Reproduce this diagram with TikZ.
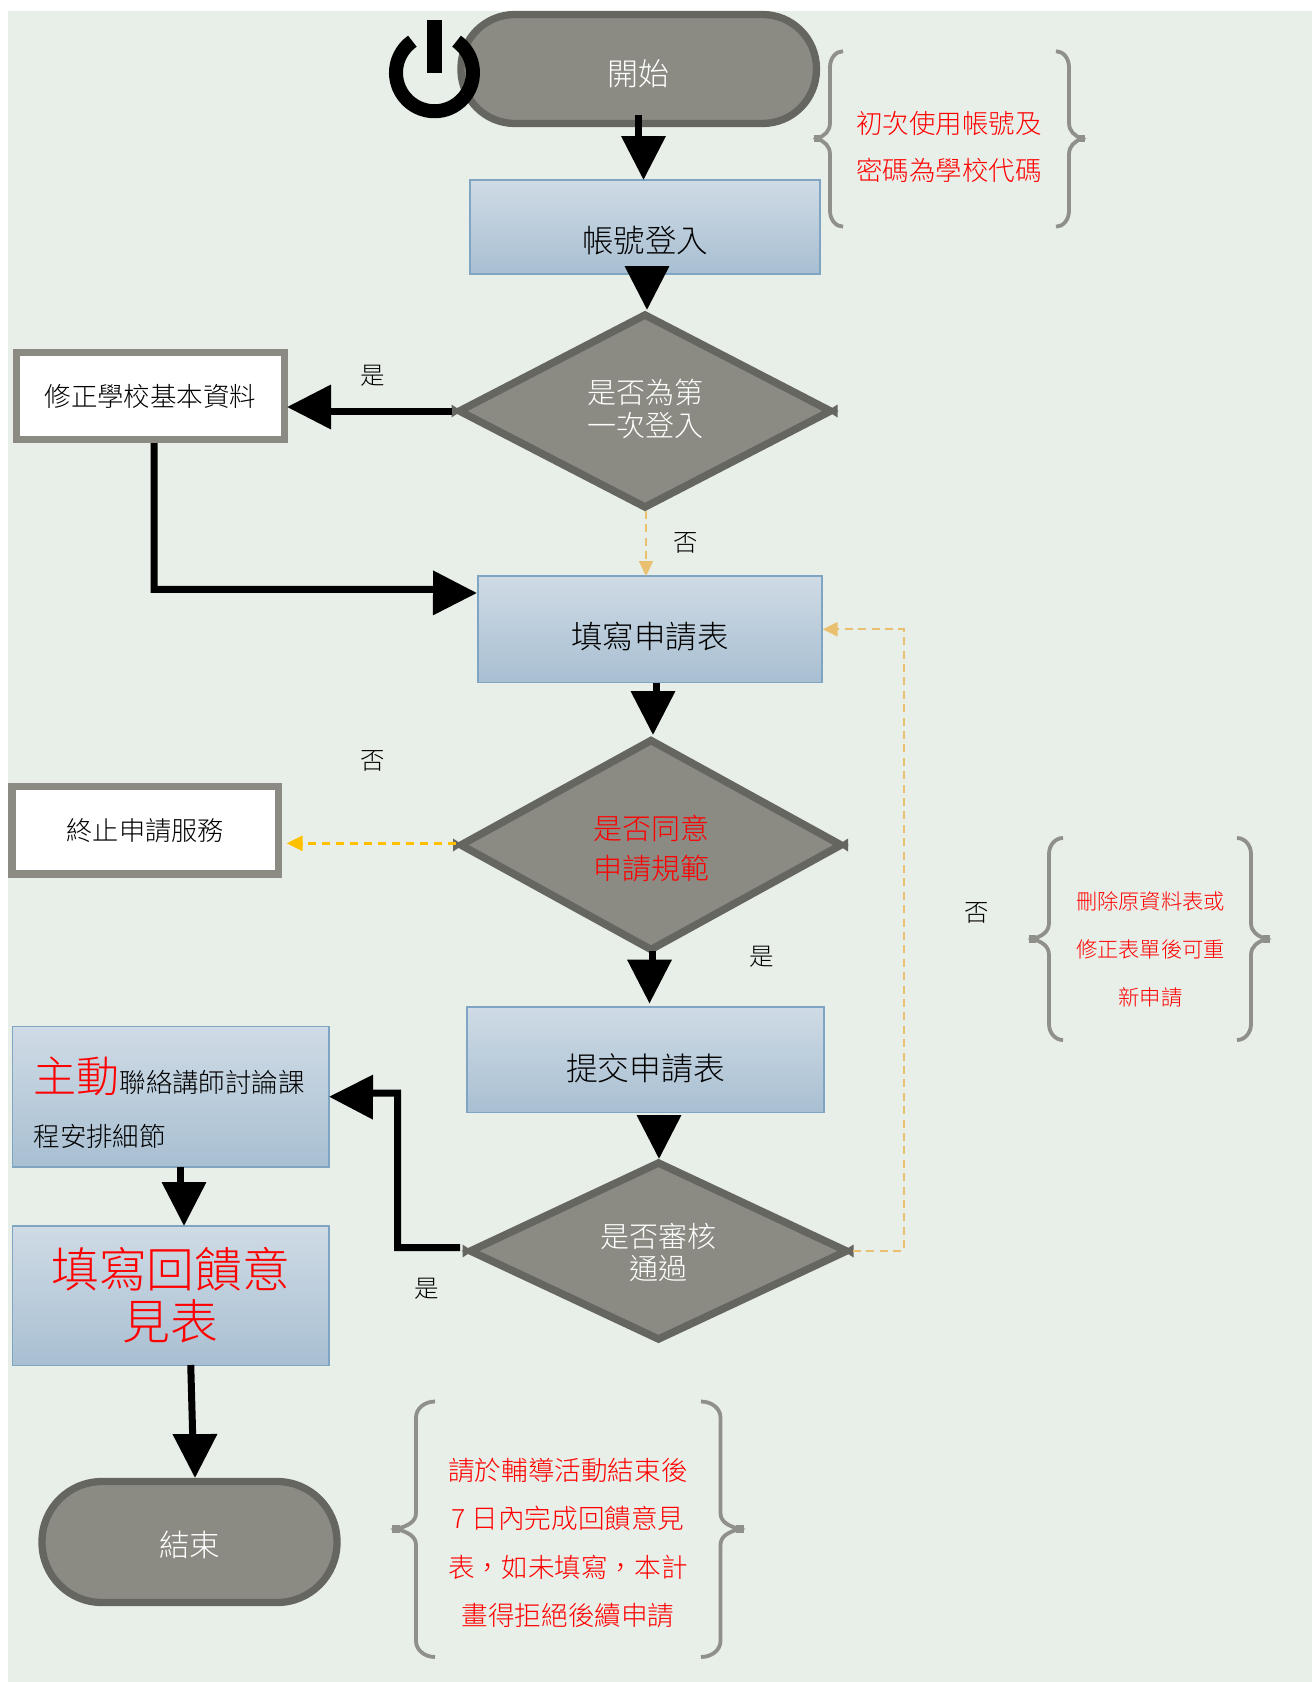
\documentclass[tikz,border=0pt]{standalone}
\usepackage{fontspec}
\setmainfont{Noto Sans CJK TC}[UprightFont=* Light]
\usetikzlibrary{arrows.meta,shapes.geometric}
\definecolor{bgc}{HTML}{E8EFE8}
\definecolor{brd}{HTML}{666660}
\definecolor{pillc}{HTML}{8B8B83}
\definecolor{boxtop}{HTML}{CFDBE5}
\definecolor{boxbot}{HTML}{A8BFD2}
\definecolor{boxedge}{HTML}{7FA5C3}
\definecolor{brace}{HTML}{8F908A}
\definecolor{dashY}{HTML}{E8C070}
\definecolor{dashO}{HTML}{FFC000}
\newcommand{\boxtext}[4]{% offset of first line centre below node centre, font size, line pitch, lines
 \pgfmathsetmacro\myraise{-(#1)-0.38*(#2)}%
 \fontsize{#2pt}{#3pt}\selectfont\smash{\raisebox{\myraise pt}{\begin{tabular}[t]{@{}c@{}}#4\end{tabular}}}}
\newcommand{\tipmarks}[1]{%
 \fill[brd] ([xshift=-8pt,yshift=6.5pt]#1.west) -- ++(0,13) -- ++(10,-6.5) -- cycle;
 \fill[brd] ([xshift=7pt,yshift=6.5pt]#1.east) -- ++(0,13) -- ++(-10,-6.5) -- cycle;}
\newcommand{\bracepic}[6]{% tip, spine, end, top, mid, bottom
 \pgfmathsetmacro\dxe{#3-(#2)}\pgfmathsetmacro\dxt{#1-(#2)}%
 \draw[bracestyle] (#3,#4) .. controls ({#2+0.45*\dxe},#4) and (#2,{#4+7}) .. (#2,{#4+16})
   -- (#2,{#5-16}) .. controls (#2,{#5-7}) and ({#2+0.35*\dxt},{#5-3}) .. ({#2+0.8*\dxt},#5)
   .. controls ({#2+0.35*\dxt},{#5+3}) and (#2,{#5+7}) .. (#2,{#5+16})
   -- (#2,{#6-16}) .. controls (#2,{#6-7}) and ({#2+0.45*\dxe},#6) .. (#3,#6);
 \fill[brace] (#1,{#5-3.8}) rectangle ({#2+0.65*\dxt},{#5+3.8});}
\tikzset{
 pill/.style={rectangle,draw=brd,fill=pillc,line width=7.3pt,outer sep=0pt,inner sep=0pt,text=white},
 flowbox/.style={rectangle,draw=boxedge,line width=1.5pt,top color=boxtop,bottom color=boxbot,outer sep=0pt,inner sep=0pt,text=black},
 framebox/.style={rectangle,draw=pillc,fill=white,line width=7.3pt,outer sep=0pt,inner sep=0pt,text=black},
 choice/.style={diamond,draw=brd,fill=pillc,line width=7.5pt,outer sep=0pt,inner sep=0pt,text=white},
 plain/.style={inner sep=0pt,outer sep=0pt,text=black},
 note/.style={inner sep=0pt,outer sep=0pt,text=red},
 fat/.style={draw=black,line width=7pt,line join=miter,-{Triangle[length=44pt,width=43pt]}},
 dashY/.style={draw=dashY,line width=2.2pt,dash pattern=on 8pt off 5.4pt,-{Triangle[length=15pt,width=14pt]}},
 dashO/.style={draw=dashO,line width=2.8pt,dash pattern=on 8.5pt off 5.5pt,-{Triangle[length=16pt,width=15pt]}},
 bracestyle/.style={draw=brace,line width=3.8pt,line cap=butt},
}
\begin{document}
\begin{tikzpicture}[x=1pt,y=-1pt]
\useasboundingbox (0,0) rectangle (1312,1682);
\fill[bgc] (8,11) rectangle (1312,1682);
% nodes
\node[pill,rounded corners=54pt,minimum width=355.5pt,minimum height=109pt] (start) at (638.7,69) {\boxtext{4.5}{31}{31}{開始}};
\node[flowbox,minimum width=350pt,minimum height=94pt] (login) at (645,227) {\boxtext{14}{31.5}{32}{帳號登入}};
\node[choice,minimum width=371pt,minimum height=192pt,aspect=1.93] (d1) at (645,411) {\boxtext{-18.5}{29}{31.5}{是否為第\\[-1pt]一次登入}};
\node[framebox,minimum width=268pt,minimum height=87pt] (fix) at (150.5,396) {\boxtext{0.6}{26.5}{27}{修正學校基本資料}};
\node[flowbox,minimum width=344pt,minimum height=106.5pt] (form) at (650,629.25) {\boxtext{7.75}{31.5}{32}{填寫申請表}};
\node[choice,minimum width=380pt,minimum height=209pt,aspect=1.82,text=red] (d2) at (651,845) {\boxtext{-16.4}{29}{40}{是否同意\\申請規範}};
\node[framebox,minimum width=266.5pt,minimum height=87.5pt] (stop) at (145.2,830.2) {\boxtext{0}{26.2}{27}{終止申請服務}};
\node[flowbox,minimum width=357pt,minimum height=105.5pt] (submit) at (645.5,1059.75) {\boxtext{8.5}{31.8}{32}{提交申請表}};
\node[choice,minimum width=376pt,minimum height=176pt,aspect=2.14] (d3) at (658.5,1251) {\boxtext{-15}{29}{32}{是否審核\\[-1pt]通過}};
\node[flowbox,minimum width=316.5pt,minimum height=140.6pt] (contact) at (170.75,1096.7) {\fontsize{26.5pt}{54pt}\selectfont\kern-3pt\smash{\raisebox{4.7pt}{\begin{tabular}[t]{@{}l@{}}{\fontsize{43pt}{43pt}\selectfont\color{red}主動}聯絡講師討論課\\程安排細節\end{tabular}}}};
\node[flowbox,minimum width=316.5pt,minimum height=139.7pt,text=red] (feedback) at (170.75,1295.85) {\boxtext{-26.5}{47.8}{54}{填寫回饋意\\[-4pt]見表}};
\node[pill,rounded corners=60pt,minimum width=295pt,minimum height=121pt] (finish) at (189.5,1542) {\boxtext{2.5}{30.5}{31}{結束}};
% labels
\node[plain] (yes1) at (373,375) {\boxtext{0}{24.5}{25}{是}};
\node[plain] (no1) at (686,542) {\boxtext{0}{24.5}{25}{否}};
\node[plain] (no2) at (373,760) {\boxtext{0}{24.5}{25}{否}};
\node[plain] (yes2) at (761.5,956) {\boxtext{0}{24.5}{25}{是}};
\node[plain] (no3) at (976.6,912) {\boxtext{0}{24.5}{25}{否}};
\node[plain] (yes3) at (427,1288) {\boxtext{0}{24.5}{25}{是}};
% notes
\node[note] (note1) at (949,147) {\boxtext{-24}{26.5}{47.7}{初次使用帳號及\\密碼為學校代碼}};
\node[note] (note2) at (1150.6,949) {\boxtext{-48}{21.3}{48}{刪除原資料表或\\修正表單後可重\\新申請}};
\node[note] (note3) at (568,1541) {\boxtext{-70.5}{26.6}{48.2}{請於輔導活動結束後\\7 日內完成回饋意見\\表，如未填寫，本計\\畫得拒絕後續申請}};
% braces
\bracepic{814}{830}{843}{51.2}{138.6}{226.7}
\bracepic{1085}{1069}{1056}{51.2}{138.6}{226.7}
\bracepic{1029}{1049}{1063}{838}{939}{1040}
\bracepic{1270}{1251}{1237}{838}{939}{1040}
\bracepic{391.6}{416}{435}{1401.5}{1529}{1657}
\bracepic{744}{720.5}{701}{1401.5}{1529}{1657}
% power icon
\draw[black,line width=14pt,line cap=butt] (412.4,41.2) arc[start angle=125,end angle=415,radius=38.5pt];
\fill[black] (427.3,20) rectangle (442,72.7);
% diamond tip marks
\tipmarks{d1}\tipmarks{d2}\tipmarks{d3}
% connectors
\draw[fat] ([yshift=8.5pt]start.south) -- ++(0,25) -- ++(4.8,0) -- ([xshift=-1.5pt]login.north);
\draw[fat] ([xshift=2pt,yshift=8.5pt]login.south) -- ([xshift=2pt,yshift=5pt]d1.north);
\draw[fat] ([xshift=-7.6pt]d1.west) -- ++(-126,0) -- ++(0,-4) -- ([xshift=2.5pt,yshift=-11pt]fix.east);
\draw[fat] ([xshift=3.5pt,yshift=-3.5pt]fix.south) -- ++(0,146.3) -- ++(288,0) -- ++(0,3.6) -- ([xshift=-1pt,yshift=36.25pt]form.west);
\draw[dashY] ([xshift=1pt,yshift=-4pt]d1.south) -- ([xshift=-4pt]form.north);
\draw[fat] ([xshift=6pt]form.south) -- ++(0,12.5) -- ++(-3,0) -- ([xshift=2pt,yshift=5.5pt]d2.north);
\draw[dashO] ([xshift=-5pt,yshift=1.7pt]d2.west) -- ([xshift=8.2pt,yshift=-13.1pt]stop.east);
\draw[fat] ([xshift=1.7pt,yshift=-1.5pt]d2.south) -- ++(0,13) -- ++(-3.2,0) -- ([xshift=4pt,yshift=3.4pt]submit.north);
\draw[fat] ([xshift=13.5pt,yshift=-2pt]submit.south) -- ([xshift=0.5pt,yshift=4pt]d3.north);
\draw[fat] ([xshift=-10.5pt,yshift=3.5pt]d3.west) -- ++(-62.5,0) -- ++(0,-154.5) [rounded corners=6pt] -- ++(-31.5,0) [sharp corners] -- ++(0,4) -- (contact.east);
\draw[fat] ([xshift=9.25pt]contact.south) -- ++(0,19) -- ++(4,0) -- ([xshift=13.25pt]feedback.north);
\draw[fat] ([xshift=20pt,yshift=0.7pt]feedback.south) -- ++(2,73) -- ++(2.2,0) -- ([xshift=5.5pt,yshift=3.5pt]finish.north);
\draw[dashY,dash pattern=on 8pt off 5.4pt] ([xshift=6.5pt]d3.east) -- ++(50.8,0) -- ++(0,-621.75) -- ([xshift=0.6pt]form.east);
\end{tikzpicture}
\end{document}
